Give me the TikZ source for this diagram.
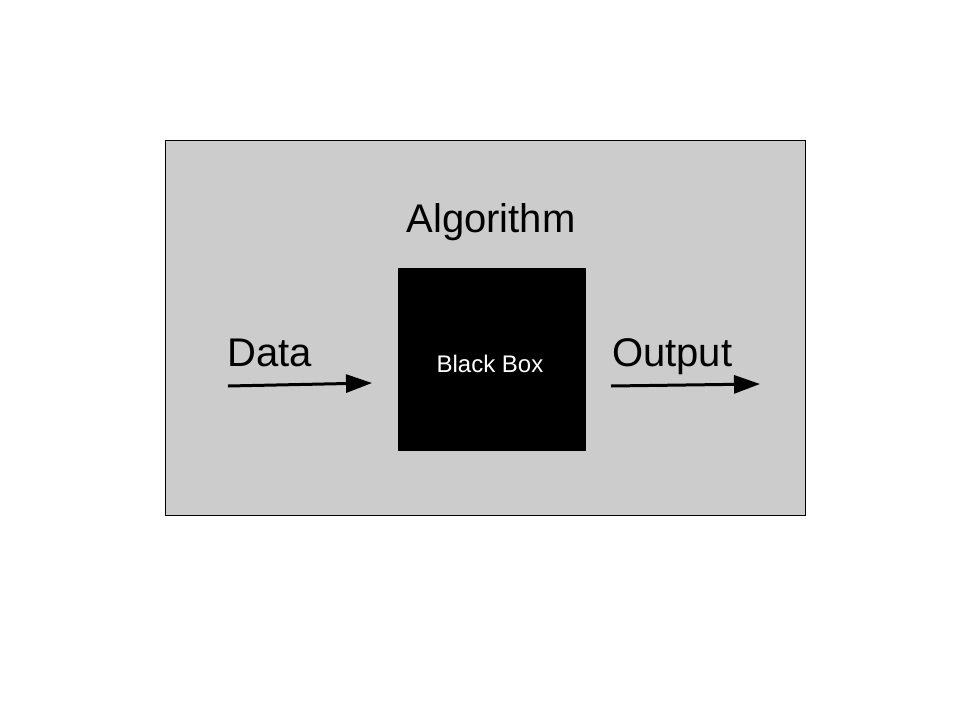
\documentclass[tikz,border=0pt]{standalone}
\usepackage{fontspec}
\setmainfont{Liberation Sans}
\usetikzlibrary{arrows.meta}
\begin{document}
\begin{tikzpicture}[x=1pt,y=-1pt,
  lbl/.style={font=\fontsize{40}{44}\selectfont, text=black, inner sep=0pt},
  flow/.style={line width=3pt, -{Triangle[length=26pt,width=18pt]}}]
\useasboundingbox (0,0) rectangle (960,720);
\fill[white] (0,0) rectangle (960,720);
\node[draw=black, line width=1pt, fill={rgb,255:red,204;green,204;blue,204}, minimum width=640pt, minimum height=375pt, inner sep=0pt] (frame) at (485,327.5) {};
\node[fill=black, minimum width=188pt, minimum height=183pt, inner sep=0pt] (bb) at (492,359.5) {};
\node[text=white, font=\fontsize{24}{26}\selectfont, inner sep=0pt, anchor=base] (bbt) at (490,372) {Black Box};
\node[lbl, anchor=base] (alg) at (491,232) {Algorithm};
\node[lbl, anchor=base west] (data) at (227,366) {Data};
\node[lbl, anchor=base west] (out) at (612,366) {Output};
\coordinate (d1) at (228,386);
\coordinate (d2) at (372,383);
\coordinate (o1) at (611,386);
\coordinate (o2) at (760,384);
\draw[flow] (d1) -- (d2);
\draw[flow] (o1) -- (o2);
\end{tikzpicture}
\end{document}
